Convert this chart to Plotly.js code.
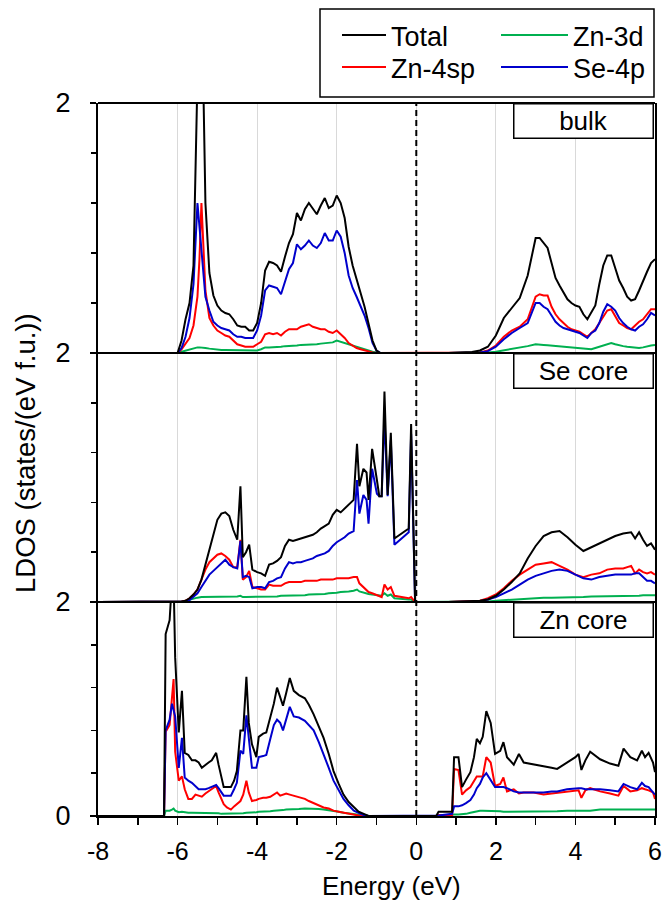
<!DOCTYPE html>
<html>
<head>
<meta charset="utf-8">
<script src="https://cdn.plot.ly/plotly-3.0.1.min.js"></script>
<style>
html,body{margin:0;padding:0;background:#fff;}
#chart{width:664px;height:902px;}
</style>
</head>
<body>
<div id="chart"></div>
<script>
// ---------- Panel 1: bulk ----------
const bulkE = [-8,-6.0,-5.9,-5.8,-5.7,-5.6,-5.5,-5.45,-5.4,-5.3,
  -5.2,-5.1,-5.0,-4.9,-4.8,-4.7,-4.6,-4.5,-4.4,-4.3,
  -4.2,-4.1,-4.0,-3.9,-3.8,-3.7,-3.6,-3.5,-3.4,-3.3,
  -3.2,-3.1,-3.0,-2.9,-2.8,-2.7,-2.6,-2.5,-2.4,-2.3,
  -2.2,-2.1,-2.0,-1.9,-1.8,-1.7,-1.6,-1.5,-1.4,-1.3,
  -1.2,-1.1,-1.0,-0.9,
  0.8,1.0,1.2,1.4,1.6,1.8,2.0,2.2,2.4,2.6,
  2.8,3.0,3.1,3.2,3.3,3.4,3.5,3.6,3.7,3.8,
  3.9,4.0,4.1,4.2,4.3,4.4,4.5,4.6,4.7,4.8,
  4.9,5.0,5.1,5.2,5.3,5.4,5.5,5.6,5.7,5.8,
  5.9,6.0];
const bulkTotal = [0,0,.10,.27,.40,.70,2.2,3.0,3.0,1.2,
  .64,.46,.38,.34,.32,.31,.27,.22,.21,.21,
  .18,.18,.24,.40,.66,.73,.72,.70,.65,.77,
  .88,.95,1.12,1.06,1.15,1.20,1.15,1.11,1.18,1.24,
  1.16,1.18,1.26,1.20,1.08,.85,.70,.58,.48,.37,
  .24,.10,.02,0,
  0,.002,.005,.008,.02,.05,.14,.28,.36,.44,
  .62,.92,.92,.88,.84,.72,.60,.54,.48,.43,
  .40,.38,.37,.31,.27,.32,.38,.55,.70,.78,
  .78,.68,.58,.52,.45,.42,.43,.50,.58,.65,
  .72,.75];
const bulkZn4sp = [0,0,.03,.08,.12,.22,.45,.75,1.2,.50,
  .28,.22,.18,.16,.14,.13,.10,.07,.06,.05,
  .05,.05,.07,.09,.15,.16,.15,.16,.14,.17,
  .19,.19,.19,.21,.22,.23,.21,.20,.19,.19,
  .17,.16,.18,.15,.12,.08,.06,.04,.03,.02,
  .01,.005,0,0,
  0,0,0,.002,.005,.02,.06,.13,.18,.21,
  .27,.45,.47,.46,.46,.37,.31,.27,.24,.21,
  .19,.18,.17,.15,.13,.16,.19,.24,.29,.34,
  .35,.30,.24,.22,.20,.19,.22,.25,.27,.31,
  .35,.35];
const bulkSe4p = [0,0,.04,.13,.28,.55,1.2,1.0,.8,.45,
  .34,.25,.22,.20,.19,.18,.15,.13,.13,.12,
  .12,.12,.18,.30,.50,.54,.53,.52,.47,.58,
  .67,.72,.87,.83,.86,.90,.86,.84,.88,.96,
  .90,.90,.98,.93,.80,.62,.52,.45,.38,.30,
  .20,.08,.02,0,
  0,0,0,.002,.005,.015,.05,.11,.16,.20,
  .24,.40,.40,.37,.35,.30,.25,.22,.20,.19,
  .18,.17,.16,.14,.12,.16,.18,.24,.33,.39,
  .37,.34,.28,.24,.21,.19,.18,.21,.23,.27,
  .32,.30];
const bulkZn3d = [0,0,.01,.02,.03,.035,.045,.045,.045,.04,
  .035,.03,.03,.025,.025,.025,.02,.02,.02,.02,
  .02,.02,.02,.03,.045,.045,.045,.05,.05,.055,
  .055,.06,.06,.065,.065,.07,.07,.07,.075,.08,
  .08,.085,.10,.09,.08,.07,.055,.045,.035,.03,
  .02,.01,.005,0,
  0,0,0,0,0,.005,.01,.02,.035,.045,
  .055,.07,.07,.065,.063,.06,.055,.05,.05,.045,
  .045,.04,.04,.035,.03,.03,.04,.05,.065,.075,
  .08,.07,.06,.055,.05,.045,.04,.04,.045,.055,
  .06,.065];

// ---------- Panel 2: Se core ----------
const seE = [-8,-6.0,-5.9,-5.8,-5.7,-5.6,-5.5,-5.4,-5.3,-5.2,
  -5.1,-5.0,-4.9,-4.8,-4.7,-4.6,-4.5,-4.42,-4.36,-4.28,
  -4.2,-4.12,-4.0,-3.9,-3.8,-3.7,-3.6,-3.5,-3.4,-3.3,
  -3.2,-3.1,-3.0,-2.9,-2.8,-2.7,-2.6,-2.5,-2.4,-2.3,
  -2.2,-2.1,-2.0,-1.9,-1.8,-1.7,-1.575,-1.49,-1.43,-1.33,
  -1.25,-1.2,-1.11,-0.99,-0.93,-0.87,-0.8,-0.72,-0.64,-0.55,
  -0.19,-0.13,-0.03,
  0.8,1.6,1.8,2.0,2.2,2.4,2.6,2.8,3.0,3.2,
  3.4,3.6,3.8,4.0,4.2,4.4,4.6,4.8,5.0,5.2,
  5.4,5.5,5.6,5.7,5.8,5.9,6.0];
const seTotal = [0,0,.005,.01,.03,.06,.10,.18,.30,.42,
  .55,.66,.71,.72,.69,.58,.50,.93,.36,.40,
  .46,.26,.24,.23,.21,.30,.31,.33,.36,.45,
  .50,.49,.50,.51,.52,.53,.54,.56,.59,.61,
  .63,.70,.74,.72,.75,.78,.82,1.27,.93,1.07,
  1.04,.82,1.23,.98,.85,.85,1.69,.86,1.36,.51,
  .59,1.43,0,
  0,.01,.02,.05,.10,.16,.23,.35,.45,.53,
  .56,.57,.52,.46,.41,.44,.47,.50,.53,.55,
  .56,.51,.56,.50,.45,.47,.42];
const seZn4sp = [0,0,.005,.01,.03,.06,.10,.18,.26,.32,
  .35,.38,.39,.37,.34,.28,.28,.50,.18,.20,
  .25,.12,.11,.10,.10,.14,.13,.13,.13,.15,
  .16,.16,.16,.16,.17,.17,.17,.17,.18,.18,
  .18,.18,.19,.19,.19,.19,.20,.20,.15,.12,
  .10,.08,.07,.056,.05,.04,.14,.10,.12,.05,
  .03,.04,0,
  0,.01,.03,.06,.11,.17,.22,.26,.30,.31,
  .32,.29,.26,.22,.20,.22,.23,.26,.27,.27,
  .29,.23,.26,.24,.23,.24,.22];
const seSe4p = [0,0,0,.005,.015,.04,.07,.12,.17,.22,
  .25,.28,.31,.34,.30,.28,.27,.49,.20,.21,
  .20,.11,.12,.12,.11,.16,.17,.19,.20,.27,
  .32,.31,.32,.32,.33,.34,.35,.37,.38,.39,
  .41,.45,.48,.50,.52,.55,.57,.98,.71,.86,
  .82,.63,1.07,.87,.85,.85,1.49,.85,1.30,.46,
  .56,1.35,0,
  0,.005,.02,.04,.07,.10,.14,.18,.21,.23,
  .25,.26,.25,.22,.19,.18,.20,.21,.22,.22,
  .22,.23,.23,.20,.17,.17,.15];
const seZn3d = [0,0,.005,.01,.02,.03,.035,.04,.04,.04,
  .04,.04,.04,.04,.04,.04,.045,.05,.04,.04,
  .04,.04,.04,.04,.04,.045,.045,.045,.05,.05,
  .05,.05,.05,.055,.055,.06,.06,.06,.065,.065,
  .07,.07,.075,.08,.08,.085,.09,.10,.085,.075,
  .07,.065,.06,.055,.055,.05,.07,.05,.06,.03,
  .02,.02,0,
  0,0,.005,.01,.015,.02,.025,.03,.03,.035,
  .035,.035,.04,.04,.04,.045,.045,.045,.05,.05,
  .05,.05,.05,.055,.055,.055,.055];

// ---------- Panel 3: Zn core ----------
const znE = [-8,-6.34,-6.3,-6.28,-6.2,-6.14,-6.1,-6.06,-5.97,-5.89,
  -5.82,-5.73,-5.64,-5.55,-5.47,-5.39,-5.3,-5.22,-5.14,-5.03,
  -4.97,-4.9,-4.84,-4.76,-4.66,-4.58,-4.51,-4.42,-4.35,-4.27,
  -4.21,-4.13,-4.02,-3.96,-3.85,-3.77,-3.67,-3.58,-3.5,-3.42,
  -3.35,-3.27,-3.18,-3.08,-2.95,-2.8,-2.7,-2.58,-2.45,-2.33,
  -2.2,-2.08,-1.95,-1.83,-1.7,-1.57,-1.45,-1.32,-1.2,
  0.5,0.56,0.9,0.95,1.06,1.15,1.25,1.36,1.45,1.52,
  1.6,1.67,1.76,1.87,1.98,2.11,2.19,2.28,2.45,2.58,
  2.7,2.95,3.2,3.4,3.54,3.79,4.0,4.08,4.15,4.25,
  4.37,4.62,4.87,5.08,5.21,5.38,5.55,5.67,5.75,5.84,
  5.95,6.0];
const znTotal = [0,0,1.70,1.73,1.83,2.2,2.2,1.48,.78,1.17,
  .59,.57,.52,.52,.50,.45,.48,.50,.52,.59,
  .48,.36,.27,.27,.27,.33,.42,.80,.80,1.30,
  .87,.67,.55,.74,.77,.78,.92,1.05,1.20,1.11,
  1.03,1.15,1.29,1.17,1.13,1.10,1.04,.95,.84,.73,
  .58,.42,.30,.20,.13,.08,.04,.02,0,
  0,.04,.04,.55,.55,.27,.34,.41,.55,.72,
  .68,.74,.98,.87,.58,.61,.69,.55,.48,.58,
  .50,.48,.46,.45,.44,.50,.55,.58,.43,.52,
  .60,.53,.49,.47,.63,.55,.52,.61,.55,.59,
  .50,.41];
const znZn4sp = [0,0,.80,.80,.85,1.1,1.28,.60,.33,.37,
  .25,.16,.16,.20,.19,.18,.21,.23,.25,.28,
  .22,.16,.11,.08,.06,.09,.11,.14,.20,.33,
  .22,.14,.15,.16,.17,.17,.18,.20,.22,.19,
  .20,.21,.20,.19,.17,.16,.14,.12,.10,.08,
  .07,.05,.04,.03,.02,.01,.005,0,0,
  0,.01,.01,.44,.43,.20,.24,.27,.33,.37,
  .37,.37,.55,.50,.28,.30,.36,.23,.25,.21,
  .22,.22,.20,.21,.22,.23,.24,.24,.17,.24,
  .26,.23,.21,.19,.28,.23,.24,.26,.25,.24,
  .22,.16];
const znSe4p = [0,0,.80,.82,.90,1.05,1.0,.93,.45,.73,
  .36,.33,.31,.28,.25,.25,.25,.26,.27,.29,
  .26,.22,.19,.19,.19,.25,.31,.61,.58,.94,
  .70,.45,.45,.55,.56,.57,.72,.85,.90,.87,
  .80,.90,1.02,.93,.92,.89,.85,.80,.69,.58,
  .45,.33,.24,.16,.10,.05,.03,.01,0,
  0,.005,.02,.09,.09,.10,.12,.15,.20,.26,
  .30,.36,.40,.33,.27,.27,.27,.26,.23,.22,
  .22,.22,.22,.23,.23,.25,.26,.26,.26,.25,
  .25,.25,.24,.23,.30,.27,.25,.31,.28,.27,
  .22,.20];
const znZn3d = [0,0,.05,.05,.05,.06,.07,.05,.035,.04,
  .035,.03,.03,.03,.03,.025,.025,.025,.025,.025,
  .025,.02,.02,.02,.02,.02,.02,.025,.025,.03,
  .03,.03,.035,.04,.04,.045,.045,.05,.05,.055,
  .055,.06,.06,.065,.065,.07,.07,.07,.065,.06,
  .055,.05,.04,.03,.025,.015,.01,.005,0,
  0,0,.01,.015,.015,.015,.02,.03,.04,.045,
  .05,.05,.05,.05,.045,.045,.04,.04,.04,.04,
  .04,.045,.045,.045,.045,.05,.05,.05,.05,.05,
  .05,.06,.06,.06,.06,.06,.06,.06,.06,.06,
  .06,.06];

const seriesNames = ['Total','Zn-3d','Zn-4sp','Se-4p'];
const seriesColors = {'Total':'#000000','Zn-3d':'#00b050','Zn-4sp':'#ff0000','Se-4p':'#0000cc'};
// one legend per entry: left column Total / Zn-4sp, right column Zn-3d / Se-4p
const legendOf = {'Total':'legend','Zn-4sp':'legend2','Zn-3d':'legend3','Se-4p':'legend4'};
const panelLabels = ['bulk','Se core','Zn core'];
const xTicks = [-8,-6,-4,-2,0,2,4,6];

const panels = [
  {E: bulkE, ys: {'Total':bulkTotal,'Zn-3d':bulkZn3d,'Zn-4sp':bulkZn4sp,'Se-4p':bulkSe4p}, axis:'y3', legend:true},
  {E: seE,   ys: {'Total':seTotal,'Zn-3d':seZn3d,'Zn-4sp':seZn4sp,'Se-4p':seSe4p}, axis:'y2', legend:false},
  {E: znE,   ys: {'Total':znTotal,'Zn-3d':znZn3d,'Zn-4sp':znZn4sp,'Se-4p':znSe4p}, axis:'y', legend:false}
];
const drawOrder = ['Zn-3d','Zn-4sp','Se-4p','Total'];

const traces = [];
panels.forEach(p => {
  drawOrder.forEach(n => {
    traces.push({
      type:'scatter', mode:'lines', x:p.E, y:p.ys[n], name:n,
      yaxis:p.axis, xaxis:'x', showlegend:p.legend, legend:legendOf[n],
      line:{color:seriesColors[n], width:2}, hoverinfo:'skip'
    });
  });
});

const FONT = 'Liberation Sans, Arial, sans-serif';
function yax(domain, tickvals){
  return {
    domain: domain, range:[0,2], tickmode:'array', tickvals:tickvals, ticktext:tickvals.map(String),
    ticks:'outside', ticklen:6, tickwidth:1.5, tickcolor:'#000',
    minor:{tickmode:'array', tickvals:[0.4,0.8,1.2,1.6], ticks:'outside', ticklen:5, tickwidth:1.5, tickcolor:'#000', showgrid:false},
    showline:true, linewidth:2, linecolor:'#000', mirror:true,
    showgrid:false, zeroline:false, fixedrange:true,
    tickfont:{family:FONT, size:27, color:'#000'}, ticklabelstandoff:14, anchor:'x'
  };
}
const d3 = 214/713, d2 = 463/713;
const px2x = p => (p-98)/557;
const px2y = p => (816-p)/713;

const shapes = [
  {type:'line', xref:'paper', yref:'paper', x0:0, x1:1, y0:1, y1:1, line:{color:'#000', width:2}},
  {type:'line', xref:'paper', yref:'paper', x0:0, x1:1, y0:d2, y1:d2, line:{color:'#000', width:2}},
  {type:'line', xref:'paper', yref:'paper', x0:0, x1:1, y0:d3, y1:d3, line:{color:'#000', width:2}},
  {type:'line', xref:'x', yref:'paper', x0:0, x1:0, y0:0, y1:1, line:{color:'#000', width:2, dash:'6px,4px'}},
  // legend frame
  {type:'rect', xref:'paper', yref:'paper', x0:px2x(320), x1:px2x(654), y0:px2y(97), y1:px2y(9),
   line:{color:'#000', width:1.5}, fillcolor:'rgba(0,0,0,0)'}
];

const boxAxes = ['y3','y2','y'];
const annotations = panelLabels.map((t,i) => ({
  text:t, xref:'x', yref:boxAxes[i], x:4.2, y:2, xanchor:'center', yanchor:'top',
  showarrow:false, width:134, height:29, borderpad:2, bordercolor:'#000', borderwidth:1.5,
  bgcolor:'#fff', font:{family:FONT, size:26, color:'#000'}, align:'center', valign:'middle'
}));
annotations.push({
  text:'LDOS (states/(eV f.u.))', xref:'paper', yref:'paper', x:px2x(25), y:px2y(453),
  xanchor:'center', yanchor:'middle', textangle:-90, showarrow:false,
  font:{family:FONT, size:27.5, color:'#000'}
});
annotations.push({
  text:'Energy (eV)', xref:'paper', yref:'paper', x:px2x(391), y:px2y(886),
  xanchor:'center', yanchor:'middle', showarrow:false,
  font:{family:FONT, size:26, color:'#000'}
});

function leg(left, top, itemw){
  return {
    orientation:'v', xanchor:'left', yanchor:'top', x:px2x(left), y:px2y(top),
    bgcolor:'rgba(0,0,0,0)', borderwidth:0, itemwidth:itemw,
    font:{family:FONT, size:27, color:'#000'}
  };
}

const layout = {
  width:664, height:902,
  margin:{l:98, r:9, t:103, b:86},
  paper_bgcolor:'#fff', plot_bgcolor:'#fff',
  font:{family:FONT, color:'#000'},
  showlegend:true,
  legend:  leg(337, 11, 44),
  legend2: leg(337, 43, 44),
  legend3: leg(496, 11, 67),
  legend4: leg(496, 43, 67),
  xaxis:{
    range:[-8,6], tickmode:'array', tickvals:xTicks, ticktext:xTicks.map(String),
    ticks:'outside', ticklen:7, tickwidth:1.5, tickcolor:'#000',
    minor:{dtick:1, tick0:0, ticks:'outside', ticklen:7, tickwidth:1.5, tickcolor:'#000', showgrid:false},
    showline:true, linewidth:2, linecolor:'#000',
    showgrid:true, gridcolor:'#d9d9d9', gridwidth:1, zeroline:false, fixedrange:true,
    tickfont:{family:FONT, size:25, color:'#000'}, ticklabelstandoff:5, anchor:'y'
  },
  yaxis: yax([0,d3],[0,2]),
  yaxis2: yax([d3,d2],[2]),
  yaxis3: yax([d2,1],[2]),
  shapes:shapes,
  annotations:annotations
};

Plotly.newPlot('chart', traces, layout, {staticPlot:true, displayModeBar:false});
</script>
</body>
</html>
